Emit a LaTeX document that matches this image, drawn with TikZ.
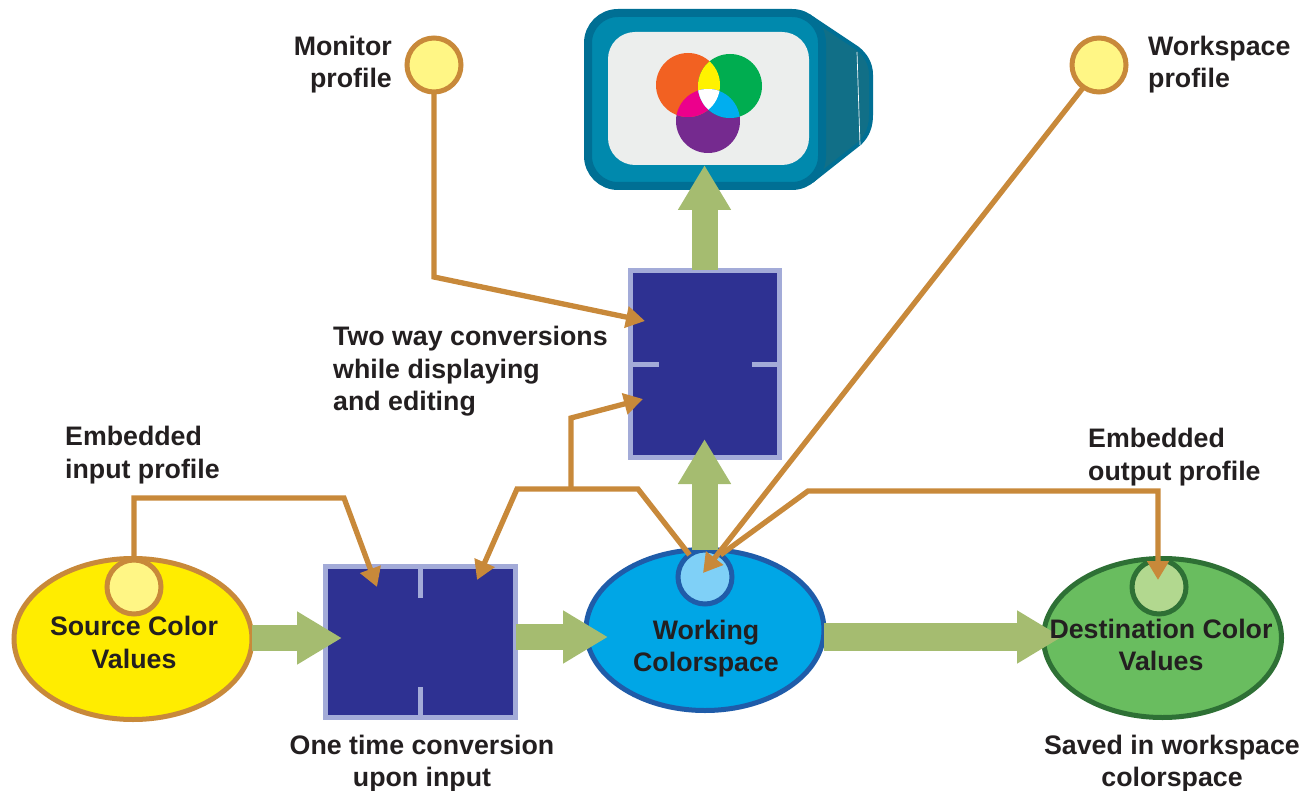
\documentclass[tikz,border=0pt]{standalone}
\usepackage{fontspec}
\setmainfont{Liberation Sans}
\usepackage{tikz}
\usetikzlibrary{shapes.geometric,arrows.meta}

\definecolor{linkc}{HTML}{C8893A}
\definecolor{flowc}{HTML}{A5BC70}
\definecolor{boxc}{HTML}{2E3192}
\definecolor{boxedge}{HTML}{A3ABD8}
\definecolor{textc}{HTML}{231F20}
\definecolor{monc}{HTML}{0089AD}
\definecolor{monedge}{HTML}{006F94}
\definecolor{monback}{HTML}{116F87}
\definecolor{screenc}{HTML}{ECEEED}
\definecolor{srcfill}{HTML}{FFED00}
\definecolor{workfill}{HTML}{00A6E6}
\definecolor{workedge}{HTML}{1F5CA9}
\definecolor{destfill}{HTML}{69BD5F}
\definecolor{destedge}{HTML}{2E7035}
\definecolor{srcdotc}{HTML}{FFF685}
\definecolor{workdotc}{HTML}{7FD0F7}
\definecolor{destdotc}{HTML}{B2D88F}
\definecolor{redc}{HTML}{F26122}
\definecolor{greenc}{HTML}{00AD50}
\definecolor{purplec}{HTML}{752A8F}
\definecolor{yellowc}{HTML}{FFF200}
\definecolor{magentac}{HTML}{EC008C}
\definecolor{cyanc}{HTML}{00AEEF}

\begin{document}
\begin{tikzpicture}[
    x=1pt, y=-1pt,
    blob/.style={ellipse, draw, line width=5pt, inner sep=0pt, outer sep=0pt},
    dot/.style={circle, draw, line width=5pt, minimum size=54pt, inner sep=0pt, outer sep=0pt},
    conv/.style={rectangle, draw=boxedge, fill=boxc, line width=5pt, inner sep=0pt, outer sep=0pt},
    tick/.style={boxedge, line width=5pt},
    flow/.style={flowc, line width=26pt, -{Triangle[length=45pt,width=50pt]}},
    link/.style={linkc, line width=5.3pt, -{Triangle[length=19pt,width=21pt]}},
    label/.style={font=\fontsize{26.75}{32.6}\selectfont\bfseries, text=textc, inner sep=0pt}
]
\useasboundingbox (0,0) rectangle (1303,791);

% monitor
\draw[fill=monback, draw=monedge, line width=4pt, line join=round]
    (812,18) -- (857,48) .. controls (866,55) and (871,64) .. (871,75) -- (871,115)
    .. controls (871,126) and (868,135) .. (860,143) -- (812,181) -- cycle;
\draw[white, line width=0.7pt] (857,52) -- (860,145);
\node[rectangle, rounded corners=30pt, draw=monedge, fill=monc, line width=8pt, inner sep=0pt, outer sep=0pt,
    minimum width=234pt, minimum height=173pt] (monitor) at (705,99.5) {};
\node[rectangle, rounded corners=27pt, fill=screenc, inner sep=0pt, outer sep=0pt,
    minimum width=201pt, minimum height=133pt] (screen) at (708.5,98.5) {};

% colour wheels
\fill[purplec] (708,121) circle (32);
\fill[redc] (688,85) circle (32);
\fill[greenc] (730,86) circle (32);
\begin{scope}
    \clip (688,85) circle (32);
    \fill[yellowc] (730,86) circle (32);
    \fill[magentac] (708,121) circle (32);
    \clip (730,86) circle (32);
    \fill[white] (708,121) circle (32);
\end{scope}
\begin{scope}
    \clip (730,86) circle (32);
    \clip (708,121) circle (32);
    \fill[cyanc] (730,86) circle (32);
    \clip (688,85) circle (32);
    \fill[white] (708,121) circle (32);
\end{scope}

% boxes
\node[conv, minimum width=190pt, minimum height=151pt] (inbox) at (420.5,642) {};
\node[conv, minimum width=149pt, minimum height=187pt] (editbox) at (705,364) {};
\draw[tick] (inbox.north) -- ++(0,31);
\draw[tick] (inbox.south) -- ++(0,-31);
\draw[tick] (editbox.west) -- ++(28,0);
\draw[tick] (editbox.east) -- ++(-28,0);

% ellipses
\node[blob, draw=linkc, fill=srcfill, minimum width=238pt, minimum height=161pt] (source) at (133,639) {};
\node[blob, draw=workedge, fill=workfill, minimum width=238pt, minimum height=161pt] (working) at (705,630) {};
\node[blob, draw=destedge, fill=destfill, minimum width=238pt, minimum height=159pt] (dest) at (1162.5,638) {};

\node[dot, draw=linkc, fill=srcdotc] (srcdot) at (134,587) {};
\node[dot, draw=workedge, fill=workdotc] (workdot) at (705,577) {};
\node[dot, draw=destedge, fill=destdotc] (destdot) at (1159,587) {};
\node[dot, draw=linkc, fill=srcdotc] (mondot) at (434,65) {};
\node[dot, draw=linkc, fill=srcdotc] (wsdot) at (1099,65) {};

% big arrows
\coordinate (tip1) at (342,638);
\coordinate (tip2) at (608,637);
\coordinate (tip3) at (1062,637);
\coordinate (tip4) at (704.5,439);
\coordinate (tip5) at (704.5,165);
\draw[flow] (source.east |- tip1) -- (tip1);
\draw[flow] (inbox.east |- tip2) -- (tip2);
\draw[flow, line width=28pt] (working.east |- tip3) -- (tip3);
\draw[flow] (tip4 |- working.north) -- (tip4);
\draw[flow] (tip5 |- editbox.north) -- (tip5);

% profile lines
\coordinate (a1) at (134,498);
\coordinate (a2) at (344,498);
\coordinate (a3) at (377,587);
\draw[link] (srcdot.north) -- (a1) -- (a2) -- (a3);

\coordinate (b1) at (434,277);
\coordinate (b2) at (645,321);
\draw[link] (mondot.south) -- (b1) -- (b2);

\coordinate (c1) at (638,489);
\coordinate (c2) at (517,489);
\coordinate (c3) at (477,580);
\coordinate (c4) at (571,489);
\coordinate (c5) at (571,418);
\coordinate (c6) at (643,399);
\draw[link] (workdot.125) -- (c1) -- (c2) -- (c3);
\draw[link] (c4) -- (c5) -- (c6);

\coordinate (d1) at (703,573);
\draw[link] (wsdot.235) -- (d1);

\coordinate (e1) at (808,491);
\coordinate (e2) at (1158,491);
\coordinate (e3) at (1158,580);
\draw[link] (workdot.55) -- (e1) -- (e2) -- (e3);

% labels
\node[label, align=right, anchor=east] (lmon) at (392,64.5) {Monitor\\profile};
\node[label, align=left, anchor=west] (lws) at (1148,64.5) {Workspace\\profile};
\node[label, align=left, anchor=west] (ltwo) at (333,371.5) {Two way conversions\\while displaying\\and editing};
\node[label, align=left, anchor=west] (lin) at (65,455) {Embedded\\input profile};
\node[label, align=left, anchor=west] (lout) at (1088,457) {Embedded\\output profile};
\node[label, align=center] (lone) at (422,763.5) {One time conversion\\upon input};
\node[label, align=center] (lsaved) at (1172,763.5) {Saved in workspace\\colorspace};
\node[label, align=center] (lsource) at (134,642.5) {Source Color\\Values};
\node[label, align=center] (lwork) at (706,648.5) {Working\\Colorspace};
\node[label, align=center] (ldest) at (1161,645) {Destination Color\\Values};
\end{tikzpicture}
\end{document}
